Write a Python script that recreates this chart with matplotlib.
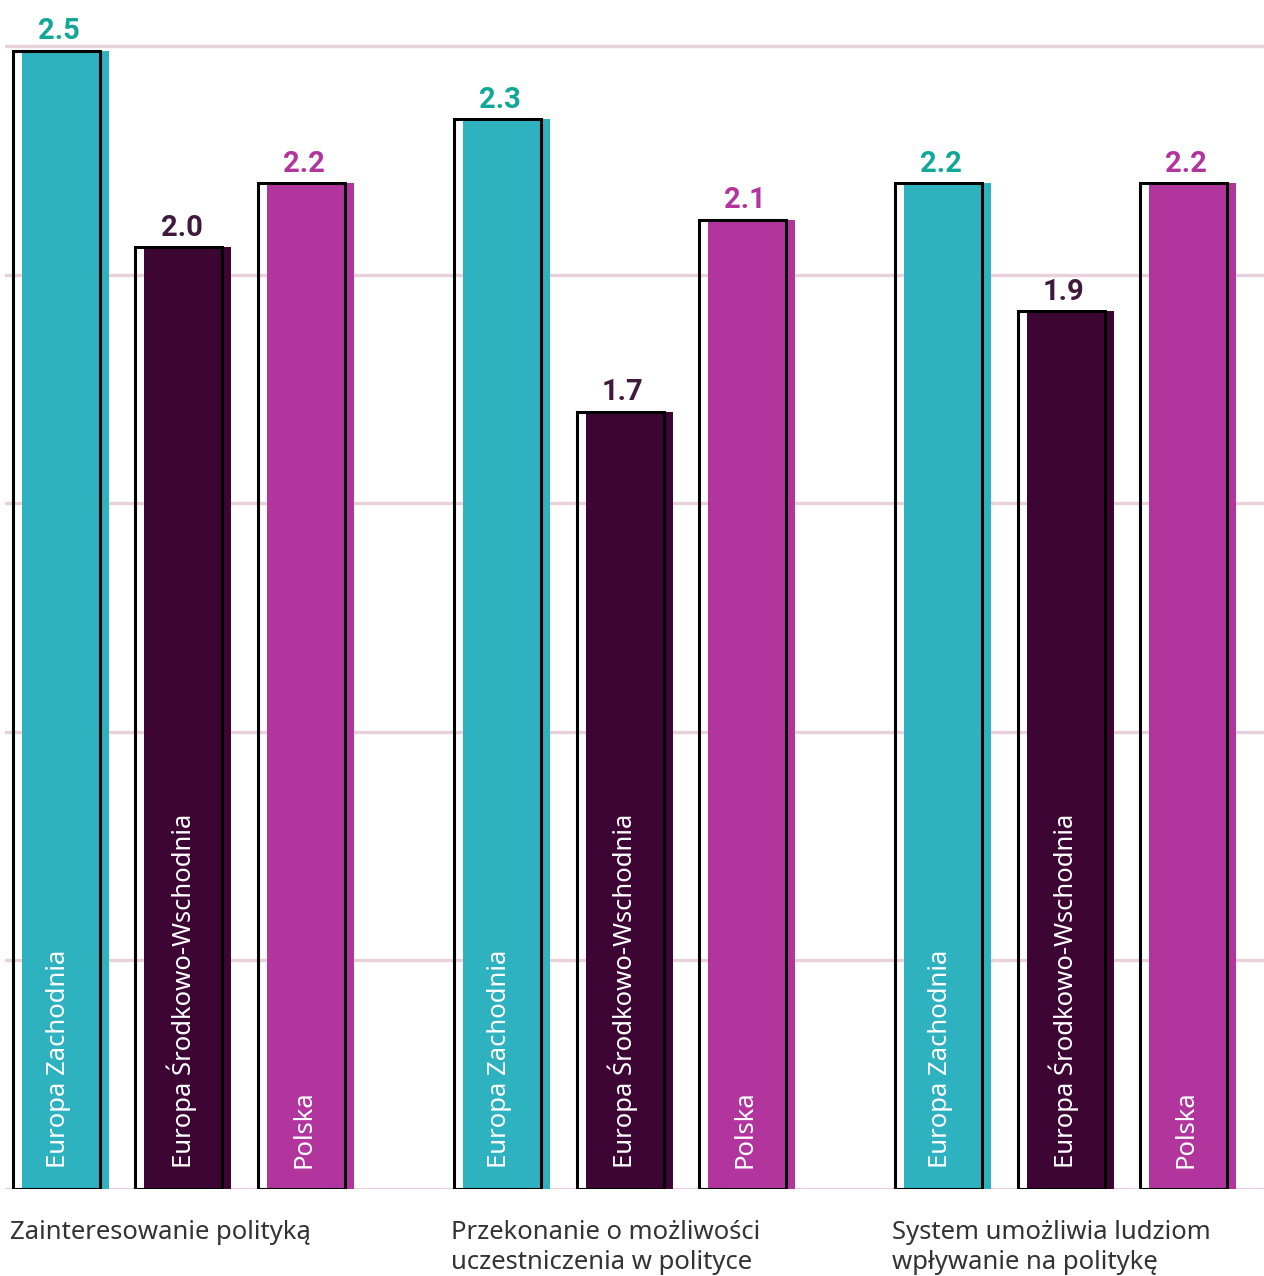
import matplotlib
matplotlib.use("Agg")
import matplotlib.pyplot as plt
import numpy as np

# data
groups = ["Zainteresowanie polityką",
          "Przekonanie o możliwości\nuczestniczenia w polityce",
          "System umożliwia ludziom\nwpływanie na politykę"]
regions = ["Europa Zachodnia", "Europa Środkowo-Wschodnia", "Polska"]
west = [2.49, 2.34, 2.20]
central_east = [2.06, 1.70, 1.92]
poland = [2.20, 2.12, 2.20]
shown = [["2.5", "2.0", "2.2"], ["2.3", "1.7", "2.1"], ["2.2", "1.9", "2.2"]]

bar_colors = ["#2fb2bf", "#3c0533", "#b2359e"]
label_colors = ["#12a898", "#401a3c", "#b2359e"]
grid_color = "#e8d0dc"

plt.rcParams["font.family"] = ["Noto Sans", "DejaVu Sans"]

fig = plt.figure(figsize=(12.64, 12.76), dpi=100)
ax = fig.add_axes([5 / 1264, 87 / 1276, 1259 / 1264, 1189 / 1276])

series = [west, central_east, poland]
group_x = np.array([0.0, 3.6, 7.2])
width = 87 / 122.5
shift = 9 / 122.5

for y in np.arange(0, 2.6, 0.5):
    ax.axhline(y, color=grid_color, lw=2.4, zorder=0)

for i, vals in enumerate(series):
    xs = group_x + (i - 1)
    ax.bar(xs + shift, vals, width=width, color=bar_colors[i], zorder=2)
    ax.bar(xs, vals, width=width, fill=False, edgecolor="black", lw=2.2, zorder=3)
    for g, (x, v) in enumerate(zip(xs, vals)):
        ax.annotate(shown[g][i], (x + 0.02, v), xytext=(0, 4), textcoords="offset points",
                    ha="center", va="bottom", fontsize=21, fontweight="bold",
                    family=["Roboto", "DejaVu Sans"],
                    color=label_colors[i], zorder=4)
        ax.annotate(regions[i], (x + 0.02, 0), xytext=(0, 15), textcoords="offset points",
                    rotation=90, ha="center", va="bottom", fontsize=18.5,
                    color="white", zorder=4)

for g, name in enumerate(groups):
    ax.annotate(name, (group_x[g] - 1 - width / 2, 0), xytext=(-2, -22),
                textcoords="offset points", ha="left", va="top", fontsize=18.5,
                color="#333333", linespacing=1.3, annotation_clip=False)

ax.set_xlim(-1 - 51.5 / 122.5, -1 - 51.5 / 122.5 + 1259 / 122.5)
ax.set_ylim(0, 1189 / 457.2)
ax.axis("off")

plt.savefig("out.png", dpi=100)
